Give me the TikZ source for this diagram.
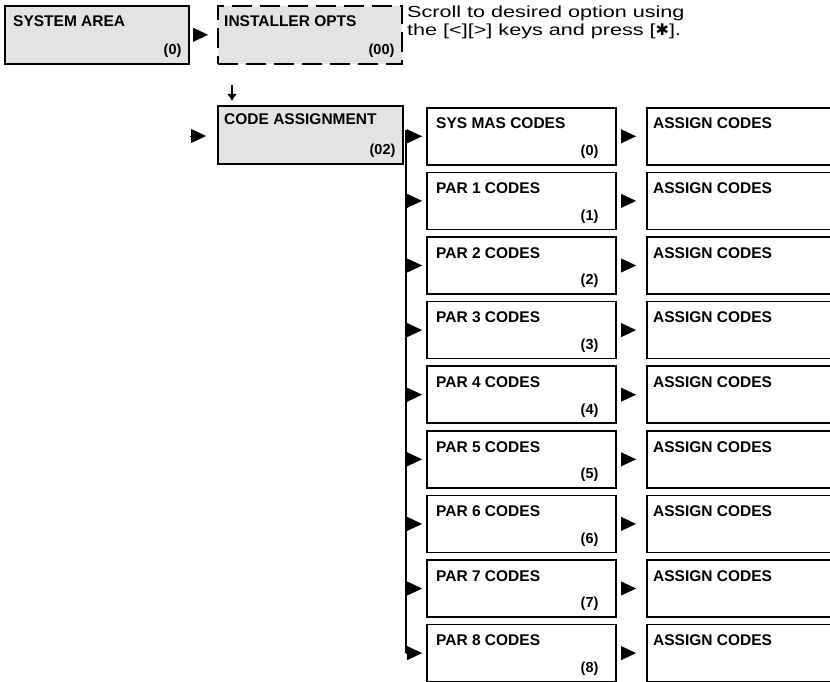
\documentclass[tikz,border=0pt]{standalone}
\usepackage{fontspec}
\setmainfont{Liberation Sans}
\newfontfamily\notefont[FakeStretch=1.35]{Liberation Sans}
\newfontfamily\dingfont{DejaVu Sans}
\usetikzlibrary{arrows.meta,calc}

\begin{document}
\begin{tikzpicture}[x=1pt,y=-1pt,
    box/.style={draw, line width=1.6pt, anchor=north west, inner sep=0pt, minimum height=57pt},
    shaded/.style={box, fill=black!11},
    title/.style={anchor=base west, inner sep=0pt, font=\bfseries\fontsize{15.5}{18}\selectfont},
    num/.style={anchor=base east, inner sep=0pt, font=\bfseries\fontsize{14.5}{17}\selectfont},
    pointer/.style={-{Triangle[length=15pt,width=14pt]}, line width=0.4pt}]

    \useasboundingbox (0,0) rectangle (830,682);
    \clip (0,0) rectangle (830,682);

    % erste Ebene
    \node[shaded, minimum width=184pt, minimum height=58pt] (sysarea) at (4,5) {};
    \node[title] (sysarea-t) at ($(sysarea.north west)+(9,22)$) {SYSTEM AREA};
    \node[num] (sysarea-n) at ($(sysarea.south east)+(-8,-10)$) {(0)};

    \node[shaded, dashed, dash pattern=on 20pt off 8pt, minimum width=184pt, minimum height=58pt] (instopt) at (217,5) {};
    \node[title] (instopt-t) at ($(instopt.north west)+(7,22)$) {INSTALLER OPTS};
    \node[num] (instopt-n) at ($(instopt.south east)+(-8,-10)$) {(00)};

    \draw[pointer, shorten <=4pt, shorten >=9pt] (sysarea.east) -- (instopt.west);

    % Hinweistext
    \node[anchor=north west, align=left, inner sep=0pt,
          font=\notefont\fontsize{16}{18}\selectfont] (note) at (407,6)
        {Scroll to desired option using\\the [<][>] keys and press [{\dingfont ✱}].};

    % zweite Ebene
    \coordinate (dn-a) at (232,85);
    \coordinate (dn-b) at (232,101);
    \draw[-{Latex[length=7pt,width=10pt]}, line width=1.6pt] (dn-a) -- (dn-b);

    \node[shaded, minimum width=185pt, minimum height=58pt] (codeasg) at (217,105) {};
    \node[title] (codeasg-t) at ($(codeasg.north west)+(7,20)$) {CODE ASSIGNMENT};
    \node[num] (codeasg-n) at ($(codeasg.south east)+(-8,-10)$) {(02)};

    \coordinate (ca-in) at (190,136);
    \draw[pointer, shorten >=11pt] (ca-in) -- (codeasg.west |- ca-in);

    % Codes je Partition
    \coordinate (bus-top) at (406,130);
    \foreach \i/\lbl/\num in {0/SYS MAS CODES/(0), 1/PAR 1 CODES/(1), 2/PAR 2 CODES/(2),
        3/PAR 3 CODES/(3), 4/PAR 4 CODES/(4), 5/PAR 5 CODES/(5), 6/PAR 6 CODES/(6),
        7/PAR 7 CODES/(7), 8/PAR 8 CODES/(8)} {
        \pgfmathsetmacro\ytop{107+64.6*\i}
        \node[box, minimum width=189pt] (mid\i) at (426,\ytop) {};
        \node[title] (mid\i-t) at ($(mid\i.north west)+(10,22)$) {\lbl};
        \node[num] (mid\i-n) at ($(mid\i.south east)+(-18,-10)$) {\num};
        \node[box, minimum width=200pt] (asg\i) at (646,\ytop) {};
        \node[title] (asg\i-t) at ($(asg\i.north west)+(7,22)$) {ASSIGN CODES};
        \draw[pointer, shorten >=4pt] (bus-top |- mid\i.west) -- (mid\i.west);
        \draw[pointer, shorten <=6pt, shorten >=10pt] (mid\i.east) -- (asg\i.west);
    }
    \draw[line width=1.5pt] (bus-top) -- (bus-top |- mid8.west);
\end{tikzpicture}
\end{document}
